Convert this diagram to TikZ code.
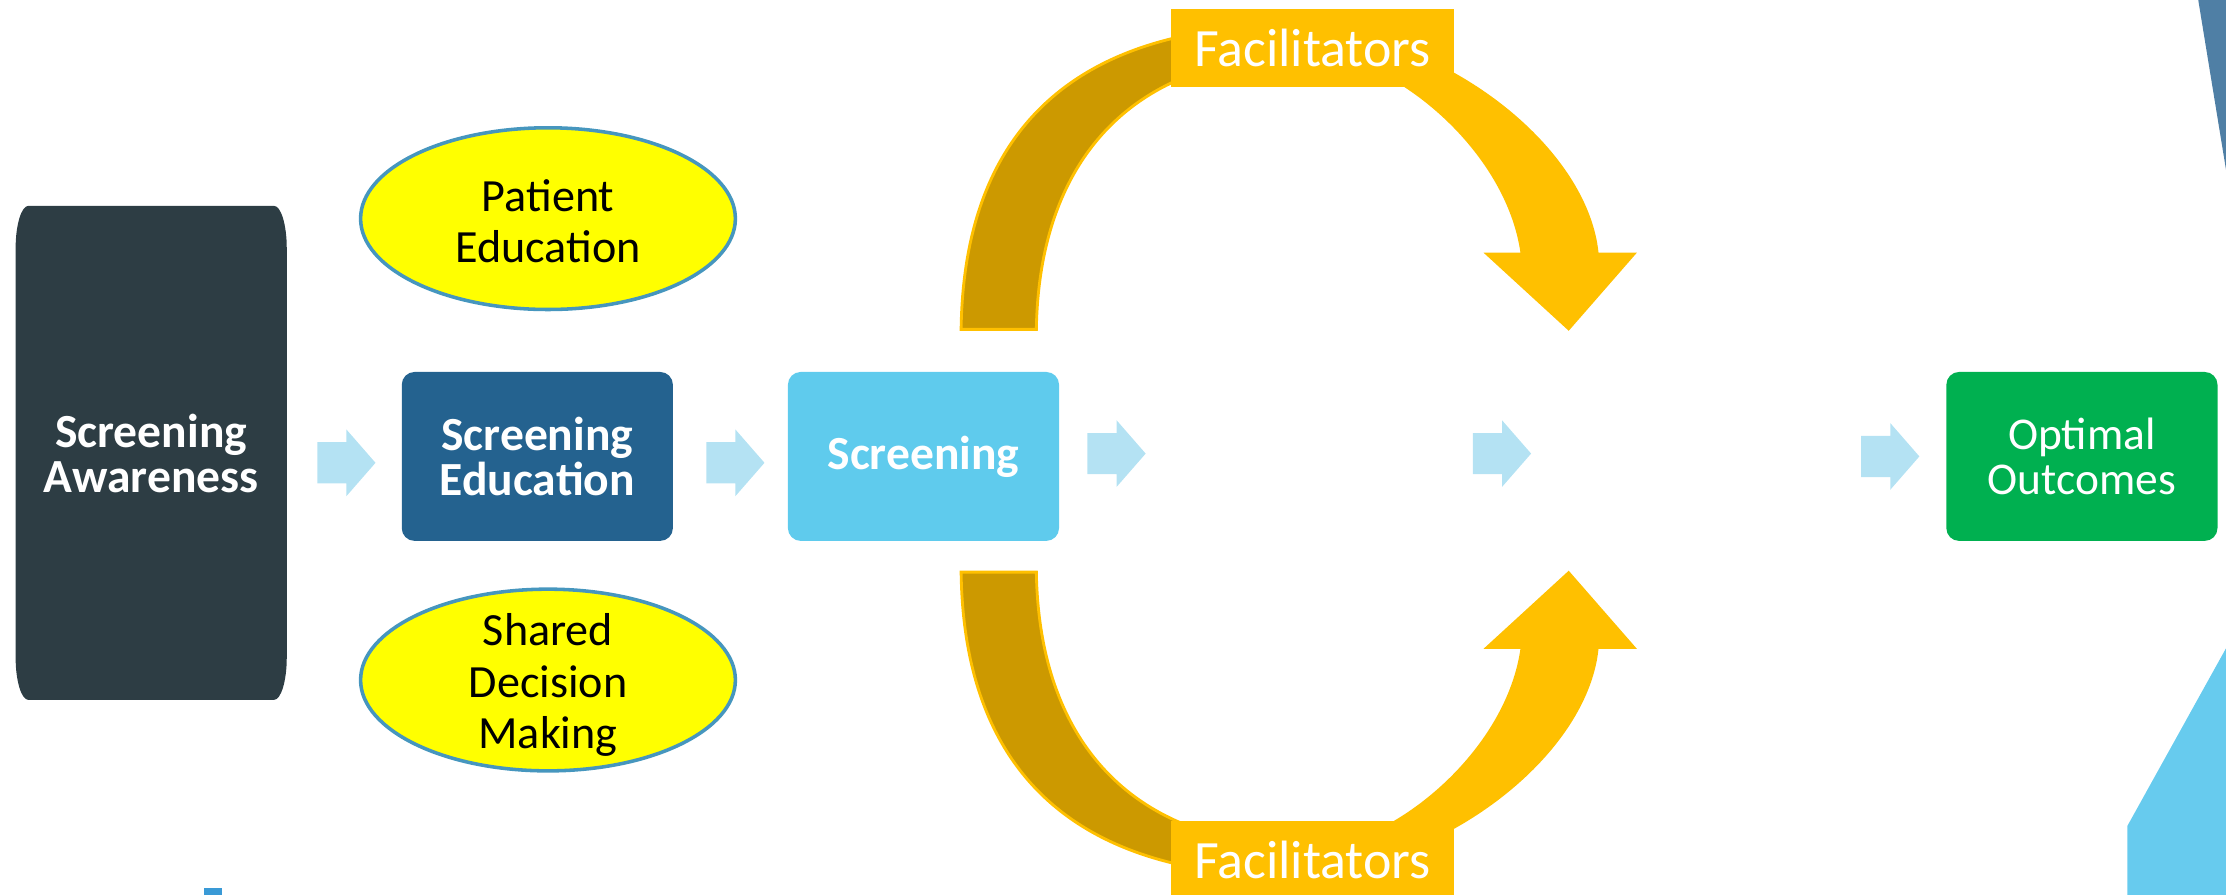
\documentclass[tikz,border=0pt]{standalone}
\usepackage{fontspec}
\setmainfont{Carlito}
\usetikzlibrary{positioning, shapes.geometric}
\definecolor{awaredark}{RGB}{45,61,68}
\definecolor{edublue}{RGB}{36,98,143}
\definecolor{scrblue}{RGB}{95,203,237}
\definecolor{optgreen}{RGB}{0,176,80}
\definecolor{arrowblue}{RGB}{180,226,243}
\definecolor{facgold}{RGB}{255,192,0}
\definecolor{bandgold}{RGB}{204,153,0}
\definecolor{bubbleblue}{RGB}{70,150,190}
\definecolor{bubbleyellow}{RGB}{255,255,0}
\definecolor{cornerdark}{RGB}{79,127,165}
\definecolor{cornerlight}{RGB}{103,203,238}
\definecolor{markblue}{RGB}{58,154,214}
\newcommand{\facloop}{%
	\filldraw[draw=facgold, fill=bandgold, line width=2pt] (677,-232) .. controls (679,-80) and (770,-20) .. (903,-18) -- (903,-40)
		.. controls (800,-45) and (732,-110) .. (730,-232) -- cycle;
	\fill[facgold] (965,-48) .. controls (1014,-70) and (1063,-122) .. (1071,-178)
		-- (1045,-178) -- (1105,-233) -- (1153,-178) -- (1126,-178)
		.. controls (1118,-100) and (1010,-18) .. (903,-18) -- cycle;
}

\begin{document}
\begin{tikzpicture}[x=1pt, y=1pt,
	stage/.style={rectangle, rounded corners=9pt, minimum width=191pt, minimum height=119pt, text=white, align=center, font=\fontsize{33.5}{32}\selectfont\bfseries},
	bubble/.style={ellipse, draw=bubbleblue, line width=2.5pt, fill=bubbleyellow, minimum width=264pt, minimum height=128pt},
	bubbletext/.style={align=center, font=\fontsize{32.5}{36}\selectfont},
	facbox/.style={rectangle, fill=facgold, minimum width=199pt, minimum height=55pt, text=white, font=\fontsize{38}{40}\selectfont},
	blockarrow/.pic={\fill[arrowblue] (0,-14.5) -- (20.5,-14.5) -- (20.5,-23.5) -- (41,0) -- (20.5,23.5) -- (20.5,14.5) -- (0,14.5) -- cycle;}]
	\path[use as bounding box, clip] (0,0) rectangle (1568,-630);

	% corner pieces of the slide
	\fill[cornerdark] (1546.8,10) -- (1580,-193) -- (1580,10) -- cycle;
	\fill[cornerlight] (1580,-435) -- (1498.5,-581.8) -- (1498.5,-640) -- (1580,-640) -- cycle;
	\fill[markblue] (143.5,-625.8) rectangle (156.5,-640);

	% awareness column
	\fill[awaredark] (11,-175) -- (11,-463) arc[start angle=180, end angle=270, x radius=9, y radius=30] -- (193,-493)
		arc[start angle=270, end angle=360, x radius=9, y radius=30] -- (202,-175)
		arc[start angle=0, end angle=90, x radius=9, y radius=30] -- (20,-145)
		arc[start angle=90, end angle=180, x radius=9, y radius=30] -- cycle;
	\node[stage, fill=none] (aware) at (106.5,-319.5) {Screening\\Awareness};

	\node[stage, fill=edublue] (edu) at (378.5,-321.5) {Screening\\Education};
	\node[stage, fill=scrblue] (screen) at (650.5,-321.5) {Screening};
	\node[stage, fill=optgreen, font=\fontsize{32}{32}\selectfont] (optimal) at (1466.5,-321.5) {Optimal\\Outcomes};

	\node[bubble] (patient) at (386,-154) {};
	\node[bubbletext] (patienttxt) at (386,-156) {Patient\\Education};
	\node[bubble] (shared) at (386,-479) {};
	\node[bubbletext] (sharedtxt) at (386,-482.5) {Shared\\Decision\\Making};

	\pic (arr1) at (223.5,-326) {blockarrow};
	\pic (arr2) at (497.5,-326) {blockarrow};
	\pic (arr3) at (766,-319.5) {blockarrow};
	\pic (arr4) at (1037.5,-319.5) {blockarrow};
	\pic (arr5) at (1311,-321.5) {blockarrow};

	% facilitator loops
	\facloop
	\begin{scope}[yshift=-635pt, yscale=-1]
		\facloop
	\end{scope}
	\node[facbox] (factop) at (924.5,-33.5) {Facilitators};
	\node[facbox] (facbot) at (924.5,-605.5) {Facilitators};
\end{tikzpicture}
\end{document}
